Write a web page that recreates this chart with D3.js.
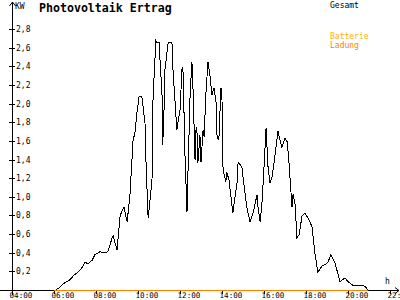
<!DOCTYPE html>
<html>
<head>
<meta charset="utf-8">
<script src="https://cdn.jsdelivr.net/npm/d3@7"></script>
<style>
  body { margin: 0; background: #fff; }
  svg { display: block; }
  text { font-family: "DejaVu Sans Mono", monospace; }
</style>
</head>
<body>
<script>
// Gesamt (kW) over time of day
var gesamtTimes = ["06:05","06:17","06:31","06:46","06:57","07:08","07:20","07:29","07:37","07:49",
    "07:57","08:11","08:26","08:34","08:46","08:49","09:00","09:09","09:20","09:29",
    "09:37","09:46","09:51","09:57","10:03","10:11","10:20","10:23","10:29","10:40",
    "10:43","10:51","10:54","11:00","11:09","11:10","11:13","11:17","11:26","11:37",
    "11:40","11:51","12:00","12:06","12:09","12:14","12:20","12:23","12:29","12:34",
    "12:37","12:43","12:46","12:49","12:51","12:57","13:00","13:06","13:09","13:14",
    "13:20","13:26","13:31","13:37","13:43","13:46","13:51","13:57","14:00","14:03",
    "14:11","14:14","14:20","14:29","14:31","14:43","14:46","14:57","15:00","15:11",
    "15:20","15:29","15:40","15:43","15:49","15:54","15:57","16:06","16:09","16:11",
    "16:17","16:23","16:31","16:40","16:51","17:00","17:06","17:11","17:20","17:23",
    "17:29","17:34","17:40","17:49","17:57","18:06","18:17","18:26","18:34","18:46",
    "18:54","19:03","19:11","19:23","19:37","19:51","20:00","20:14","20:34","20:49",
    "20:57"];
var gesamtValues = [0.00,0.03,0.08,0.11,0.16,0.19,0.24,0.30,0.28,0.32,
    0.38,0.41,0.40,0.41,0.56,0.58,0.43,0.80,0.89,0.73,
    1.02,1.61,1.68,1.90,2.07,2.08,1.79,1.36,0.77,1.18,
    2.07,2.67,2.65,2.66,2.07,1.56,1.72,2.36,2.65,2.66,
    2.36,1.72,1.93,2.39,2.33,1.47,0.84,1.29,2.11,2.45,
    2.18,1.39,1.75,1.68,1.36,1.66,1.37,1.72,1.64,2.11,
    2.45,2.29,2.09,2.17,2.01,1.63,1.61,2.17,2.04,1.29,
    1.16,1.26,1.18,0.89,0.83,1.15,1.37,1.32,1.21,0.89,
    0.73,0.83,1.02,0.89,0.73,0.93,1.11,1.74,1.50,1.34,
    1.15,1.21,1.43,1.70,1.53,1.63,1.59,1.39,0.89,1.03,
    0.91,0.56,0.59,0.80,0.82,0.77,0.68,0.38,0.19,0.26,
    0.27,0.30,0.38,0.29,0.09,0.13,0.09,0.05,0.05,0.04,
    0.00];

// Batterie Ladung (kW)
var ladungTimes = ["06:00", "20:57"];
var ladungValues = [0, 0];

var xTicks = [4, 6, 8, 10, 12, 14, 16, 18, 20, 22];
var yTicks = [0.2, 0.4, 0.6, 0.8, 1.0, 1.2, 1.4, 1.6, 1.8, 2.0, 2.2, 2.4, 2.6, 2.8];

function toHours(s) {
    var p = s.split(":");
    return +p[0] + (+p[1]) / 60;
}

var w = 400, h = 300;
var svg = d3.select("body").append("svg")
    .attr("width", w)
    .attr("height", h);

var x = d3.scaleLinear().domain([4, 22]).range([12, 390]);
var y = d3.scaleLinear().domain([0, 2.8]).range([290, 29]);

// x axis
var xAxis = svg.append("g")
    .attr("transform", "translate(0,290)")
    .call(d3.axisBottom(x)
        .tickValues(xTicks)
        .tickSize(4)
        .tickPadding(1)
        .tickFormat(function(d) { return (d < 10 ? "0" : "") + d + ":00"; }));
xAxis.select(".domain").remove();
xAxis.selectAll("line").attr("stroke", "#000").attr("shape-rendering", "crispEdges");
xAxis.selectAll("text")
    .attr("text-anchor", "start")
    .attr("dx", -3)
    .attr("y", 3)
    .attr("dy", "0.71em")
    .style("font-size", "7.6px")
    .attr("fill", "#000");

svg.append("line")
    .attr("x1", 0).attr("x2", 399)
    .attr("y1", 290.5).attr("y2", 290.5)
    .attr("stroke", "#000");
svg.append("path")
    .attr("d", "M395,287.5L399,290.5L395,293.5")
    .attr("fill", "none").attr("stroke", "#000");
svg.append("text")
    .attr("x", 385).attr("y", 284)
    .style("font-size", "8px")
    .text("h");

// y axis
var yAxis = svg.append("g")
    .attr("transform", "translate(12,0)")
    .call(d3.axisRight(y)
        .tickValues(yTicks)
        .tickSize(3)
        .tickPadding(1)
        .tickFormat(function(d) { return d3.format(".1f")(d).replace(".", ","); }));
yAxis.select(".domain").remove();
yAxis.selectAll("line").attr("x1", -3).attr("stroke", "#000").attr("shape-rendering", "crispEdges");
yAxis.selectAll("text").style("font-size", "8px").attr("fill", "#000");

svg.append("line")
    .attr("x1", 12.5).attr("x2", 12.5)
    .attr("y1", 2).attr("y2", 295)
    .attr("stroke", "#000");
svg.append("path")
    .attr("d", "M9.5,6L12.5,2L15.5,6")
    .attr("fill", "none").attr("stroke", "#000");
svg.append("text")
    .attr("x", 15).attr("y", 9)
    .style("font-size", "8px")
    .text("KW");

// title and legend
svg.append("text")
    .attr("x", 39).attr("y", 11.5)
    .style("font-size", "11.6px")
    .style("font-weight", "bold")
    .text("Photovoltaik Ertrag");
svg.append("text")
    .attr("x", 330).attr("y", 7.5)
    .style("font-size", "8px")
    .text("Gesamt");
svg.append("text")
    .attr("x", 330).attr("y", 39)
    .style("font-size", "8px")
    .attr("fill", "#ffb000")
    .text("Batterie");
svg.append("text")
    .attr("x", 330).attr("y", 47.5)
    .style("font-size", "8px")
    .attr("fill", "#ff8000")
    .text("Ladung");

// series
var line = d3.line()
    .x(function(d) { return x(d[0]); })
    .y(function(d) { return y(d[1]); });

var ladung = ladungTimes.map(function(t, i) { return [toHours(t), ladungValues[i]]; });
svg.append("path")
    .datum(ladung)
    .attr("d", line)
    .attr("fill", "none")
    .attr("stroke", "#ff8000")
    .attr("stroke-width", 1)
    .attr("shape-rendering", "crispEdges")
    .attr("transform", "translate(0,0.5)");

var gesamt = gesamtTimes.map(function(t, i) { return [toHours(t), gesamtValues[i]]; });
svg.append("path")
    .datum(gesamt)
    .attr("d", line)
    .attr("fill", "none")
    .attr("stroke", "#000")
    .attr("stroke-width", 1)
    .attr("shape-rendering", "crispEdges");
</script>
</body>
</html>
